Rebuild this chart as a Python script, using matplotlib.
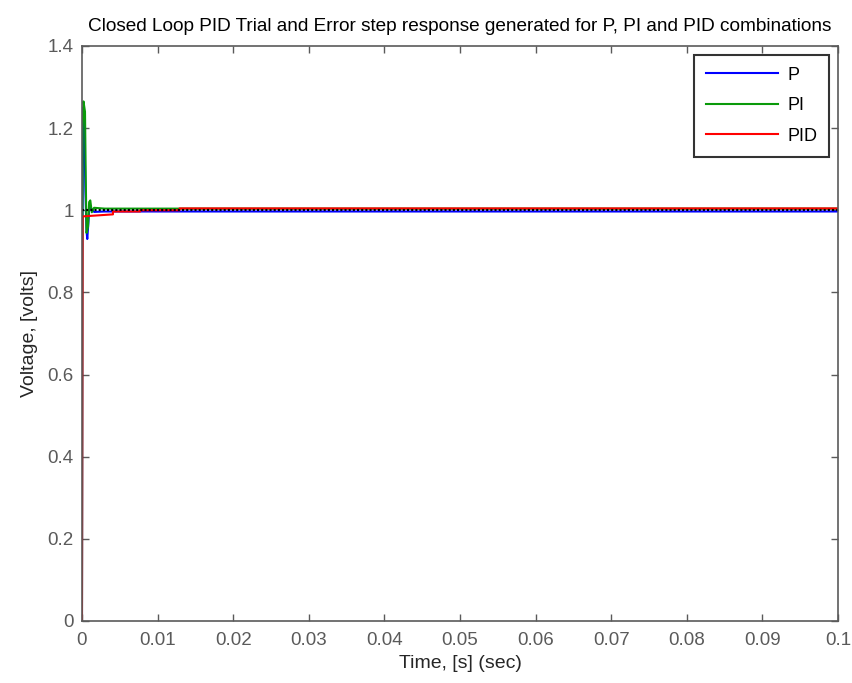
"""
Respuesta al escalón en lazo cerrado: P, PI y PID (ajuste por prueba y error).
"""

import numpy as np
import matplotlib
matplotlib.use('Agg')
import matplotlib.pyplot as plt

plt.rcParams['font.family'] = ['Liberation Sans', 'DejaVu Sans']

# Puntos característicos de cada respuesta (tiempo en s, tensión en V)
t_p = [0, 0.00005, 0.00015, 0.0003, 0.00045, 0.0006, 0.0007, 0.00085, 0.001, 0.0012, 0.0016, 0.003, 0.1]
v_p = [0, 0.88, 1.25, 1.22, 1.05, 0.95, 0.93, 0.97, 1.015, 1.005, 0.996, 0.997, 0.997]

t_pi = [0, 0.00005, 0.0001, 0.0002, 0.0004, 0.0005, 0.0006, 0.0008, 0.00095, 0.0011, 0.0013, 0.0016, 0.003, 0.1]
v_pi = [0, 0.9, 1.2, 1.265, 1.24, 1.08, 0.945, 0.96, 1.02, 1.024, 0.995, 1.006, 1.004, 1.004]

t_pid = [0, 0.00008, 0.0041, 0.0041, 0.0077, 0.0077, 0.0129, 0.0129, 0.1]
v_pid = [0, 0.985, 0.99, 0.997, 0.997, 1.0, 1.0, 1.0045, 1.0045]

t_ref = [0, 0.1]
v_ref = [1, 1]

x_ticks = [0, 0.01, 0.02, 0.03, 0.04, 0.05, 0.06, 0.07, 0.08, 0.09, 0.1]
y_ticks = [0, 0.2, 0.4, 0.6, 0.8, 1.0, 1.2, 1.4]

axis_grey = '#5a5a5a'

fig = plt.figure(figsize=(8.53, 6.83), dpi=100)
ax = fig.add_axes([0.0961, 0.0908, 0.8863, 0.8419])

ax.plot(t_p, v_p, color='#0000ff', lw=1.5, label='P')
ax.plot(t_pi, v_pi, color='#0a9a0a', lw=1.5, label='PI')
ax.plot(t_pid, v_pid, color='#ff0000', lw=1.5, label='PID')
ax.plot(t_ref, v_ref, color='k', lw=1.5, ls=(0, (1, 1)))

ax.set_xlim(0, 0.1)
ax.set_ylim(0, 1.4)
ax.set_xticks(x_ticks)
ax.set_xticklabels(['%g' % v for v in x_ticks])
ax.set_yticks(y_ticks)
ax.set_yticklabels(['%g' % v for v in y_ticks])

ax.tick_params(direction='in', length=5, width=1, color=axis_grey,
               labelcolor=axis_grey, labelsize=13.5,
               top=True, right=True)
ax.tick_params(axis='x', pad=8)
ax.tick_params(axis='y', pad=6)
for sp in ax.spines.values():
    sp.set_color(axis_grey)
    sp.set_linewidth(1.2)

ax.set_xlabel('Time, [s] (sec)', fontsize=14, color='#262626', labelpad=4)
ax.set_ylabel('Voltage, [volts]', fontsize=14, color='#262626', labelpad=7)
ax.set_title('Closed Loop PID Trial and Error step response generated for P, PI and PID combinations',
             fontsize=13.7, color='k', pad=11)

leg = ax.legend(loc='upper right', fontsize=13, frameon=True, fancybox=False,
                edgecolor='k', handlelength=4.0, handletextpad=0.5,
                borderaxespad=0.5, labelspacing=0.75, borderpad=0.65)
leg.get_frame().set_linewidth(1.5)

fig.savefig('out.png', dpi=100)
plt.close(fig)
